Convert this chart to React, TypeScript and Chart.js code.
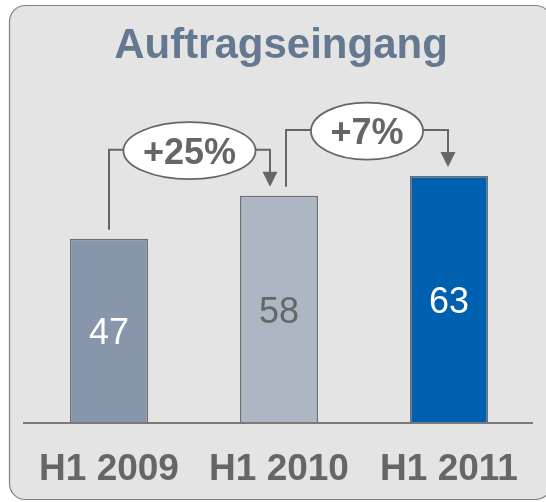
import React, { useEffect, useRef } from "react";
import { Chart, registerables } from "chart.js";

Chart.register(...registerables);

const categories = ["H1 2009", "H1 2010", "H1 2011"];
const values = [47, 58, 63];
const growthLabels = ["+25%", "+7%"];
const titleText = "Auftragseingang";

const barColors = ["#8796aa", "#adb7c4", "#0060b0"];
const valueLabelColors = ["#ffffff", "#666666", "#ffffff"];
const exitOffsets = [0, 7];
const arrowOffsets = [-9, -1];

const FONT = '"Liberation Sans", Arial, Helvetica, sans-serif';
const GREY = "#666666";

const decorPlugin = {
  id: "decor",
  beforeDraw(chart: any) {
    const ctx = chart.ctx;
    ctx.save();
    ctx.beginPath();
    ctx.roundRect(9.5, 5.5, 542, 494, 16);
    ctx.fillStyle = "#e4e4e4";
    ctx.fill();
    ctx.lineWidth = 1.2;
    ctx.strokeStyle = "#808080";
    ctx.stroke();
    ctx.font = `bold 42px ${FONT}`;
    ctx.fillStyle = "#64788f";
    ctx.textAlign = "center";
    ctx.textBaseline = "alphabetic";
    ctx.fillText(titleText, 281, 58);
    ctx.restore();
  },
  afterDatasetsDraw(chart: any) {
    const ctx = chart.ctx;
    const x = chart.scales.x;
    const y = chart.scales.y;
    const area = chart.chartArea;
    const y0 = y.getPixelForValue(0);
    ctx.save();
    // baseline
    ctx.beginPath();
    ctx.moveTo(area.left - 1, y0);
    ctx.lineTo(area.right - 1, y0);
    ctx.lineWidth = 2;
    ctx.strokeStyle = "#7a7a7a";
    ctx.stroke();

    // value labels & category labels
    ctx.textAlign = "center";
    ctx.textBaseline = "alphabetic";
    values.forEach((v, i) => {
      const cx = x.getPixelForValue(i);
      const mid = (y.getPixelForValue(v) + y0) / 2;
      ctx.font = `36px ${FONT}`;
      ctx.fillStyle = valueLabelColors[i];
      ctx.fillText(String(v), cx, mid + 13.5);
      ctx.font = `bold 37px ${FONT}`;
      ctx.fillStyle = GREY;
      ctx.fillText(categories[i], cx, 480);
    });

    // growth connectors
    growthLabels.forEach((label, k) => {
      const xs = x.getPixelForValue(k) + exitOffsets[k];
      const xt = x.getPixelForValue(k + 1) + arrowOffsets[k];
      const ys = y.getPixelForValue(values[k]) - 9;
      const yt = y.getPixelForValue(values[k + 1]) - 9;
      const yh = y.getPixelForValue(Math.max(values[k], values[k + 1])) - 46;
      ctx.font = `bold 36px ${FONT}`;
      const tw = ctx.measureText(label).width;
      const rx = tw / 2 + 19.5;
      const ry = 28.5;
      const cx = (xs + xt) / 2;
      const cy = yh + 1;

      ctx.strokeStyle = GREY;
      ctx.fillStyle = GREY;
      ctx.lineWidth = 2;
      ctx.beginPath();
      ctx.moveTo(xs, ys);
      ctx.lineTo(xs, yh);
      ctx.lineTo(cx - rx + 2, yh);
      ctx.moveTo(cx + rx - 2, yh);
      ctx.lineTo(xt, yh);
      ctx.lineTo(xt, yt - 14);
      ctx.stroke();
      ctx.beginPath();
      ctx.moveTo(xt - 7.5, yt - 15);
      ctx.lineTo(xt + 7.5, yt - 15);
      ctx.lineTo(xt, yt);
      ctx.closePath();
      ctx.fill();

      ctx.beginPath();
      ctx.ellipse(cx, cy, rx, ry, 0, 0, Math.PI * 2);
      ctx.fillStyle = "#ffffff";
      ctx.fill();
      ctx.lineWidth = 1.8;
      ctx.strokeStyle = GREY;
      ctx.stroke();

      ctx.fillStyle = GREY;
      ctx.fillText(label, cx, cy + 13);
    });
    ctx.restore();
  },
};

export default function App() {
  const ref = useRef<HTMLCanvasElement>(null);
  useEffect(() => {
    if (!ref.current) return;
    const chart = new Chart(ref.current, {
      type: "bar",
      data: {
        labels: categories,
        datasets: [
          {
            data: values,
            backgroundColor: barColors,
            borderColor: "#6e6e6e",
            borderWidth: 1.5,
            barPercentage: 1,
            categoryPercentage: 0.4588,
          },
        ],
      },
      options: {
        responsive: false,
        animation: false,
        layout: { padding: { left: 24, right: 12, top: 31, bottom: 79 } },
        scales: {
          x: { display: false },
          y: { display: false, min: 0, max: 100 },
        },
        plugins: {
          legend: { display: false },
          tooltip: { enabled: false },
          title: { display: false },
        },
      },
      plugins: [decorPlugin],
    } as any);
    return () => chart.destroy();
  }, []);
  return (
    <div style={{ position: "absolute", left: 0, top: 0, width: 546, height: 502 }}>
      <canvas ref={ref} width={546} height={502} />
    </div>
  );
}
